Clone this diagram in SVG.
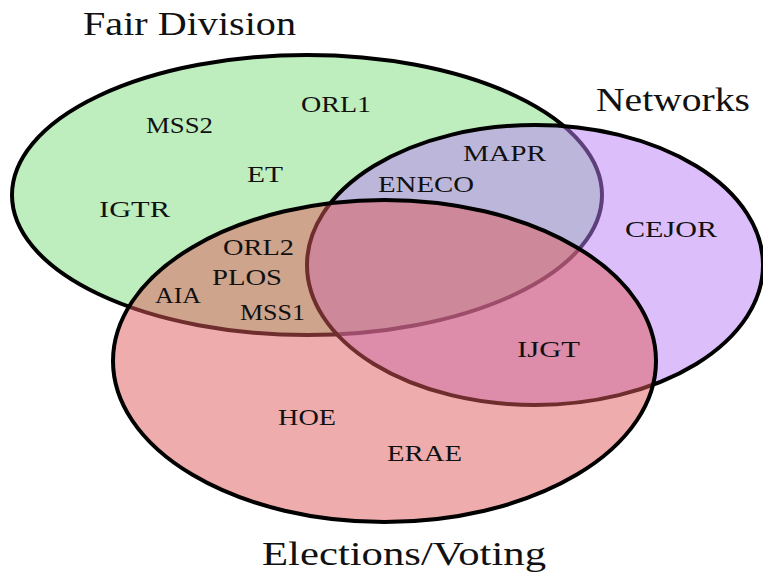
<svg xmlns="http://www.w3.org/2000/svg" width="763" height="574" viewBox="0 0 763 574">
<style>
.set{stroke:#000;stroke-width:4;fill-opacity:0.5}
.lbl{font-family:"Liberation Serif","DejaVu Serif",serif;font-size:23px;fill:#111;text-anchor:start}
.ttl{font-family:"Liberation Serif","DejaVu Serif",serif;font-size:34px;fill:#111}
</style>
<rect width="763" height="574" fill="#fff"/>
<g id="fair-division">
<ellipse class="set" cx="307" cy="195" rx="295" ry="140" fill="#7ddd7d"/>
</g>
<g id="networks">
<ellipse class="set" cx="535" cy="265" rx="228" ry="140" fill="#b97ff5"/>
</g>
<g id="elections">
<ellipse class="set" cx="384.5" cy="361" rx="271.5" ry="161" fill="#dd5959"/>
</g>
<g id="titles">
<text class="ttl" x="83" y="35" textLength="213" lengthAdjust="spacingAndGlyphs">Fair Division</text>
<text class="ttl" x="596" y="111" textLength="154" lengthAdjust="spacingAndGlyphs">Networks</text>
<text class="ttl" x="262" y="565" textLength="284" lengthAdjust="spacingAndGlyphs">Elections/Voting</text>
</g>
<g id="labels">
<text class="lbl" x="301" y="112" textLength="70" lengthAdjust="spacingAndGlyphs">ORL1</text>
<text class="lbl" x="146" y="133" textLength="67" lengthAdjust="spacingAndGlyphs">MSS2</text>
<text class="lbl" x="247" y="182" textLength="36" lengthAdjust="spacingAndGlyphs">ET</text>
<text class="lbl" x="99" y="217" textLength="71" lengthAdjust="spacingAndGlyphs">IGTR</text>
<text class="lbl" x="463" y="161" textLength="83" lengthAdjust="spacingAndGlyphs">MAPR</text>
<text class="lbl" x="378" y="192" textLength="96" lengthAdjust="spacingAndGlyphs">ENECO</text>
<text class="lbl" x="625" y="237" textLength="92" lengthAdjust="spacingAndGlyphs">CEJOR</text>
<text class="lbl" x="223" y="255" textLength="71" lengthAdjust="spacingAndGlyphs">ORL2</text>
<text class="lbl" x="212" y="285" textLength="70" lengthAdjust="spacingAndGlyphs">PLOS</text>
<text class="lbl" x="155" y="303" textLength="46" lengthAdjust="spacingAndGlyphs">AIA</text>
<text class="lbl" x="240" y="320" textLength="65" lengthAdjust="spacingAndGlyphs">MSS1</text>
<text class="lbl" x="517" y="357" textLength="63" lengthAdjust="spacingAndGlyphs">IJGT</text>
<text class="lbl" x="278" y="425" textLength="58" lengthAdjust="spacingAndGlyphs">HOE</text>
<text class="lbl" x="387" y="461" textLength="75" lengthAdjust="spacingAndGlyphs">ERAE</text>
</g>
</svg>
